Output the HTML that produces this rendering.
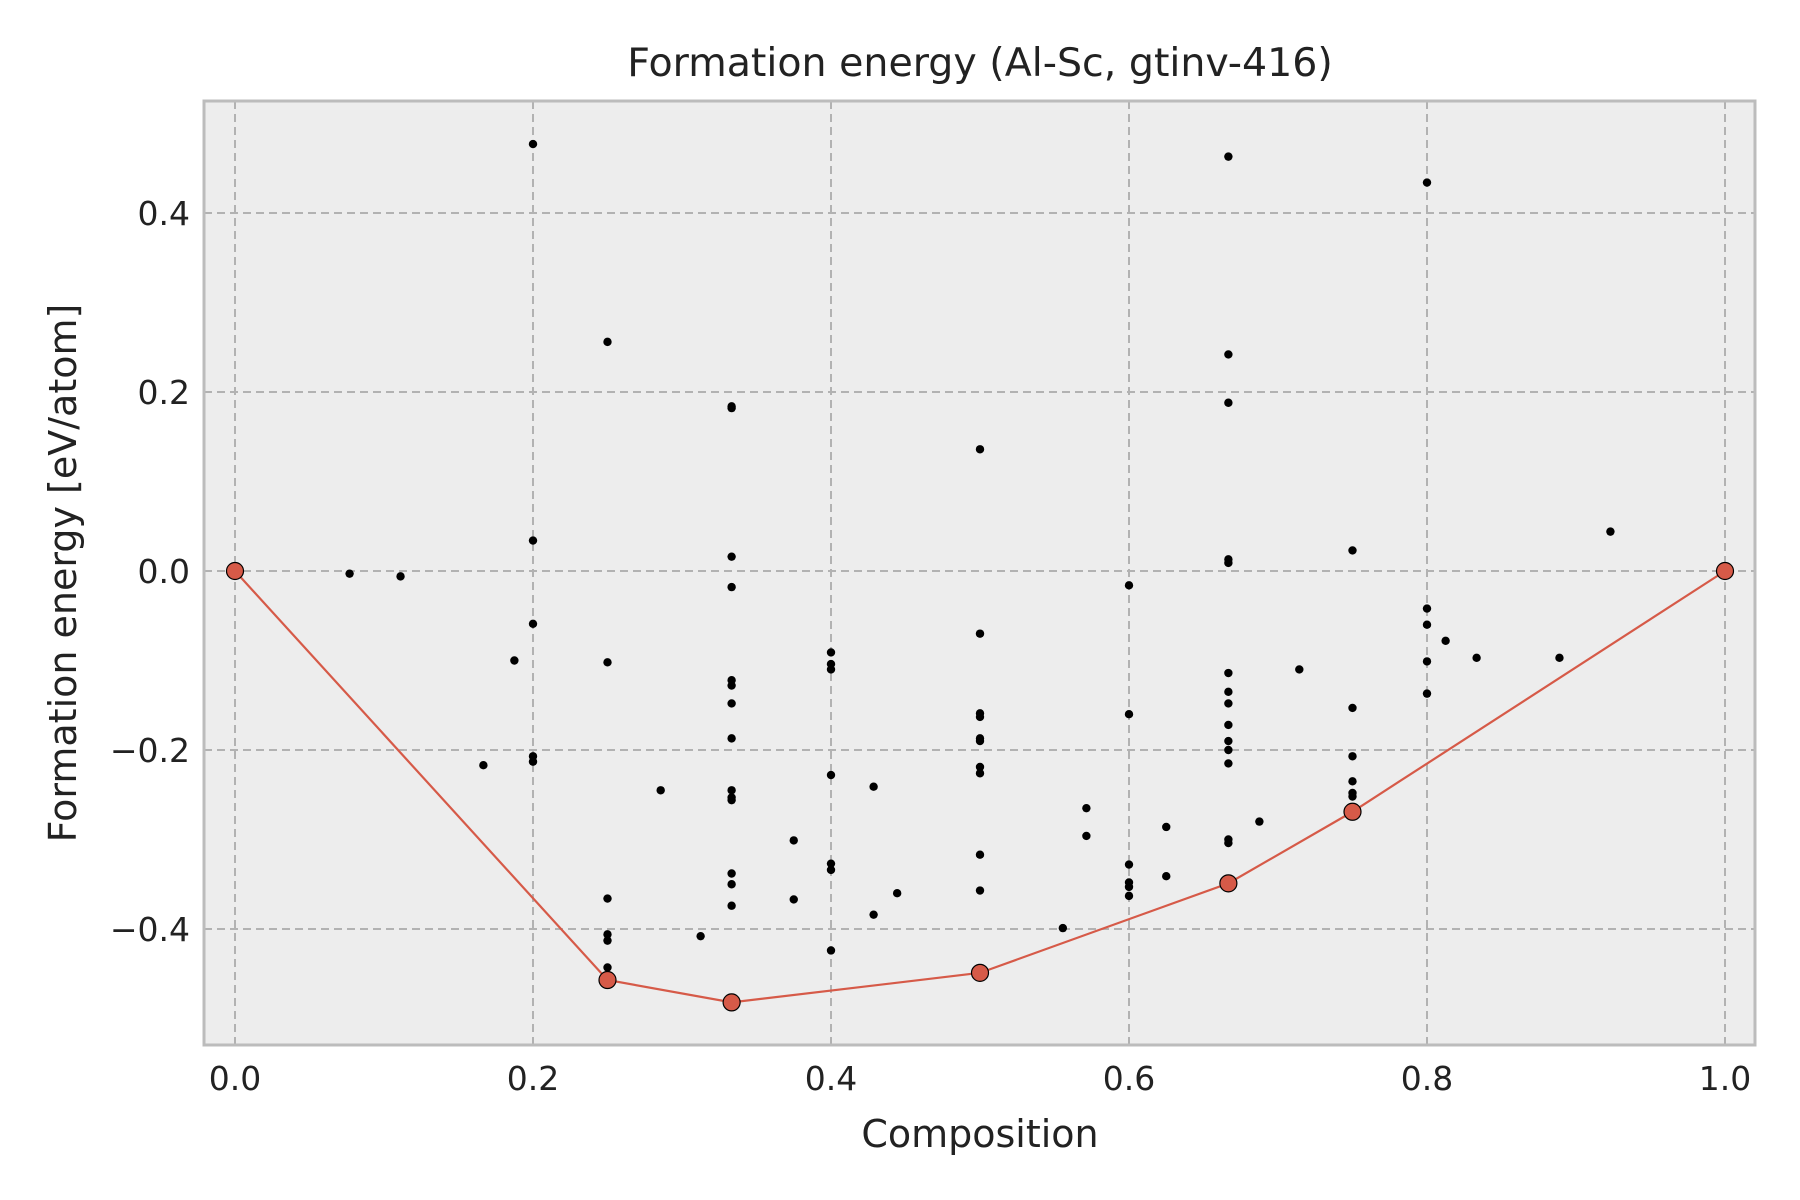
<!DOCTYPE html>
<html><head><meta charset="utf-8"><style>
html,body{margin:0;padding:0;background:#fff;}
svg{display:block;font-family:"DejaVu Sans","Liberation Sans",sans-serif;}
</style></head><body>
<svg id="chart" width="1800" height="1200" viewBox="0 0 1800 1200" xmlns="http://www.w3.org/2000/svg">
<rect x="0" y="0" width="1800" height="1200" fill="#fff"/>
<rect x="204" y="101" width="1551" height="944" fill="#ededed"/>
<g id="grid"></g>
<g id="ticks"></g>
<g id="hull"></g>
<g id="points"></g>
<rect x="204" y="101" width="1551" height="944" fill="none" stroke="#bcbcbc" stroke-width="3"/>
<text x="980" y="76" font-size="39.5" fill="#222" text-anchor="middle">Formation energy (Al-Sc, gtinv-416)</text>
<text x="980" y="1147" font-size="38" fill="#222" text-anchor="middle">Composition</text>
<text x="0" y="0" font-size="38" fill="#222" text-anchor="middle" transform="translate(76,573) rotate(-90)">Formation energy [eV/atom]</text>
</svg>
<script>
const xTicks=[0,0.2,0.4,0.6,0.8,1.0];
const xTickLabels=["0.0","0.2","0.4","0.6","0.8","1.0"];
const yTicks=[0.4,0.2,0,-0.2,-0.4];
const yTickLabels=["0.4","0.2","0.0","\u22120.2","\u22120.4"];
const hullX=[0,0.25,0.3333,0.5,0.6667,0.75,1];
const hullY=[0,-0.457,-0.482,-0.449,-0.349,-0.269,0];
const ptX=[0.2,0.2,0.2,0.2,0.2,0.0769,0.1111,0.1667,0.1875,
0.25,0.25,0.25,0.25,0.25,0.25,0.2857,0.3125,
0.3333,0.3333,0.3333,0.3333,0.3333,0.3333,0.3333,0.3333,0.3333,0.3333,0.3333,0.3333,0.3333,0.3333,
0.375,0.375,0.4,0.4,0.4,0.4,0.4,0.4,0.4,0.4286,0.4286,0.4444,
0.5,0.5,0.5,0.5,0.5,0.5,0.5,0.5,0.5,0.5,0.5556,0.5714,0.5714,
0.6,0.6,0.6,0.6,0.6,0.6,0.625,0.625,
0.6667,0.6667,0.6667,0.6667,0.6667,0.6667,0.6667,0.6667,0.6667,0.6667,0.6667,0.6667,0.6667,0.6667,
0.6875,0.7143,0.75,0.75,0.75,0.75,0.75,0.75,0.8,0.8,0.8,0.8,0.8,0.8125,0.8333,0.8889,0.9231];
const ptY=[0.477,0.034,-0.059,-0.207,-0.213,-0.003,-0.006,-0.217,-0.1,
0.256,-0.102,-0.366,-0.406,-0.413,-0.443,-0.245,-0.408,
0.184,0.182,0.016,-0.018,-0.122,-0.128,-0.148,-0.187,-0.245,-0.253,-0.256,-0.338,-0.35,-0.374,
-0.301,-0.367,-0.091,-0.104,-0.11,-0.228,-0.327,-0.334,-0.424,-0.241,-0.384,-0.36,
0.136,-0.07,-0.159,-0.163,-0.187,-0.19,-0.219,-0.226,-0.317,-0.357,-0.399,-0.265,-0.296,
-0.016,-0.16,-0.328,-0.348,-0.353,-0.363,-0.286,-0.341,
0.463,0.242,0.188,0.013,0.009,-0.114,-0.135,-0.148,-0.172,-0.19,-0.2,-0.215,-0.3,-0.304,
-0.28,-0.11,0.023,-0.153,-0.207,-0.235,-0.248,-0.252,0.434,-0.042,-0.06,-0.101,-0.137,-0.078,-0.097,-0.097,0.044];

const NS="http://www.w3.org/2000/svg";
function sx(v){return 235+v*1490;}
function sy(v){return 571-v*895;}
function mk(tag,attrs,parent){const e=document.createElementNS(NS,tag);for(const k in attrs)e.setAttribute(k,attrs[k]);parent.appendChild(e);return e;}
const grid=document.getElementById('grid'),ticks=document.getElementById('ticks');
xTicks.forEach((v,i)=>{
  const l=mk('line',{x1:sx(v),x2:sx(v),y1:101,y2:1045,stroke:'#b2b2b2','stroke-width':2,'stroke-dasharray':'8,5'},grid);
  
  
  const t=mk('text',{x:sx(v),y:1090,'font-size':33,fill:'#222','text-anchor':'middle'},ticks);
  t.textContent=xTickLabels[i];
  
  
});
yTicks.forEach((v,i)=>{
  const l=mk('line',{x1:204,x2:1755,y1:sy(v),y2:sy(v),stroke:'#b2b2b2','stroke-width':2,'stroke-dasharray':'8,5'},grid);
  
  
  const t=mk('text',{x:190,y:sy(v)+12,'font-size':33,fill:'#222','text-anchor':'end'},ticks);
  t.textContent=yTickLabels[i];
  
  
});
const pts=document.getElementById('points');
ptX.forEach((v,i)=>{
  const c=mk('circle',{cx:sx(v),cy:sy(ptY[i]),r:4.2,fill:'#000'},pts);
  
  
});
const hull=document.getElementById('hull');
const pl=mk('polyline',{points:hullX.map((v,i)=>sx(v)+','+sy(hullY[i])).join(' '),fill:'none',stroke:'#d65a48','stroke-width':2.2},hull);


hullX.forEach((v,i)=>{
  const c=mk('circle',{cx:sx(v),cy:sy(hullY[i]),r:8.5,fill:'#d65a48',stroke:'#000','stroke-width':1.2},hull);
  
  
});
</script>
</body></html>
